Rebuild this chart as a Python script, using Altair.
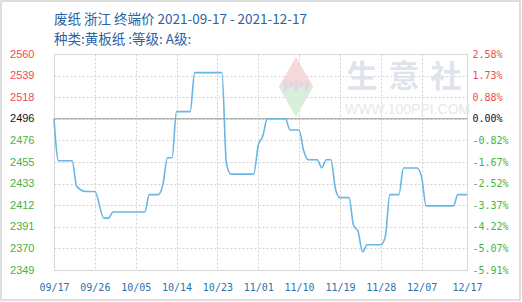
import json
import altair as alt
import pandas as pd

# Daily closing price series (only the dates where the price moves are listed)
dates = [
    "2021-09-17", "2021-09-18", "2021-09-21", "2021-09-22", "2021-09-24", "2021-09-26",
    "2021-09-28", "2021-09-29", "2021-09-30", "2021-10-07", "2021-10-08", "2021-10-10",
    "2021-10-11", "2021-10-12", "2021-10-13", "2021-10-14", "2021-10-17", "2021-10-18",
    "2021-10-24", "2021-10-25", "2021-10-26", "2021-10-31", "2021-11-01", "2021-11-02",
    "2021-11-03", "2021-11-07", "2021-11-08", "2021-11-10", "2021-11-11", "2021-11-12",
    "2021-11-14", "2021-11-15", "2021-11-16", "2021-11-17", "2021-11-18", "2021-11-19",
    "2021-11-21", "2021-11-22", "2021-11-23", "2021-11-24", "2021-11-25", "2021-11-28",
    "2021-11-29", "2021-11-30", "2021-12-02", "2021-12-03", "2021-12-06", "2021-12-07",
    "2021-12-08", "2021-12-14", "2021-12-15", "2021-12-17",
]
prices = [
    2496, 2455, 2455, 2430, 2425, 2425,
    2399, 2399, 2405, 2405, 2422, 2422,
    2432, 2458, 2458, 2503, 2503, 2541,
    2541, 2452, 2442, 2442, 2470, 2479,
    2496, 2496, 2485, 2485, 2465, 2456,
    2456, 2448, 2456, 2456, 2428, 2419,
    2419, 2392, 2386, 2366, 2373, 2373,
    2381, 2422, 2422, 2448, 2448, 2439,
    2411, 2411, 2422, 2422,
]
base_price = 2496

# Axis tick labels
x_tick_dates = [
    (2021, 9, 17), (2021, 9, 26), (2021, 10, 5), (2021, 10, 14), (2021, 10, 23),
    (2021, 11, 1), (2021, 11, 10), (2021, 11, 19), (2021, 11, 28), (2021, 12, 7),
    (2021, 12, 17),
]
y_left_labels = ["2349", "2370", "2391", "2412", "2433", "2455",
                 "2476", "2496", "2518", "2539", "2560"]
y_right_labels = ["-5.91%", "-5.07%", "-4.22%", "-3.37%", "-2.52%", "-1.67%",
                  "-0.82%", "0.00%", "0.88%", "1.73%", "2.58%"]

title_line_1 = "废纸 浙江 终端价 2021-09-17 - 2021-12-17"
title_line_2 = "种类:黄板纸 :等级: A级:"

# Evenly spaced price grid with the base price on the 8th line
y_lo, y_step = 2348.4, 21.08
y_ticks = [round(y_lo + k * y_step, 2) for k in range(11)]
y_dom = [y_ticks[0], y_ticks[-1]]

df = pd.DataFrame({"date": dates, "price": prices})

RED, GREEN, BLACK = "#ee4d4d", "#45b345", "#111111"
label_color = {
    "condition": [
        {"test": f"datum.value > {base_price + 1}", "value": RED},
        {"test": f"datum.value < {base_price - 1}", "value": GREEN},
    ],
    "value": BLACK,
}


def idx_expr(labels):
    return f"{json.dumps(labels)}[round((datum.value - {y_lo}) / {y_step})]"


x_scale = alt.Scale(
    type="utc",
    domain=[alt.DateTime(year=2021, month=9, date=17, utc=True),
            alt.DateTime(year=2021, month=12, date=17, utc=True)],
)
x_enc = alt.X(
    "date:T",
    scale=x_scale,
    axis=alt.Axis(
        values=[alt.DateTime(year=y, month=m, date=d, utc=True) for y, m, d in x_tick_dates],
        format="%m/%d", title=None, domain=False, ticks=False,
        labelPadding=12, labelFont="DejaVu Sans Mono", labelFontSize=10,
        labelColor="#2c72ad", grid=True, gridColor="#cfcfcf", gridDash=[2, 2],
        labelOverlap=False, labelFlush=False, labelBound=False,
    ),
)
y_scale = alt.Scale(domain=y_dom, zero=False, nice=False)

line = alt.Chart(df).mark_line(
    color="#6ab6e2", strokeWidth=1.6, interpolate="monotone"
).encode(
    x=x_enc,
    y=alt.Y(
        "price:Q",
        scale=y_scale,
        axis=alt.Axis(
            values=y_ticks, labelExpr=idx_expr(y_left_labels), title=None,
            domain=False, ticks=False, labelPadding=20, labelFont="Liberation Sans",
            labelFontSize=11, labelColor=label_color, grid=True,
            gridColor="#cfcfcf", gridDash=[2, 2],
        ),
    ),
)

base_rule = alt.Chart(pd.DataFrame({"price": [base_price]})).mark_rule(
    color="#9a9a9a", strokeWidth=1
).encode(y=alt.Y("price:Q", scale=y_scale, axis=None))

# Right-hand axis: change relative to the base price
right_axis = alt.Chart(df).mark_line(opacity=0).encode(
    x=x_enc,
    y=alt.Y(
        "price:Q",
        scale=y_scale,
        axis=alt.Axis(
            orient="right", values=y_ticks, labelExpr=idx_expr(y_right_labels),
            title=None, domain=False, ticks=False, grid=False, labelPadding=5,
            labelFont="DejaVu Sans Mono", labelFontSize=10, labelColor=label_color,
        ),
    ),
)

# Two-line heading
head_style = dict(align="left", baseline="middle", fontSize=13.5,
                  font="Noto Sans CJK SC, Noto Sans, sans-serif", color="#2a63a4")
head_1 = alt.Chart(pd.DataFrame({"t": [title_line_1]})).mark_text(**head_style).encode(
    text="t:N", x=alt.value(0), y=alt.value(-34))
head_2 = alt.Chart(pd.DataFrame({"t": [title_line_2]})).mark_text(**head_style).encode(
    text="t:N", x=alt.value(0), y=alt.value(-14))

# Faint publisher watermark
wm_top = alt.Chart(pd.DataFrame({"k": [0]})).mark_point(
    shape="triangle-up", filled=True, color="#f6d9da", size=1200, opacity=1
).encode(x=alt.value(242), y=alt.value(18))
wm_bot = alt.Chart(pd.DataFrame({"k": [0]})).mark_point(
    shape="triangle-down", filled=True, color="#d9eedb", size=1200, opacity=1
).encode(x=alt.value(242), y=alt.value(48))
wm_ppi = alt.Chart(pd.DataFrame({"t": ["PPI"]})).mark_text(
    fontSize=17, fontWeight="bold", font="Liberation Serif", color="#d5dbe6"
).encode(text="t:N", x=alt.value(242), y=alt.value(33))
wm_chars = alt.Chart(pd.DataFrame({"t": ["生", "意", "社"], "pos": [0, 1, 2]})).mark_text(
    fontSize=31, fontWeight="bold", color="#dfe4ec", font="Noto Sans CJK SC"
).encode(
    text="t:N",
    x=alt.X("pos:Q", scale=alt.Scale(domain=[0, 2], range=[308, 392]), axis=None),
    y=alt.value(24),
)
wm_url = alt.Chart(pd.DataFrame({"t": ["WWW.100PPI.COM"]})).mark_text(
    fontSize=14, align="left", color="#e4e8ee", font="Liberation Sans"
).encode(text="t:N", x=alt.value(291), y=alt.value(56))

# Thin outer frame around the whole figure
frame = alt.Chart(pd.DataFrame({"k": [0]})).mark_rect(
    fill=None, stroke="#d4d4d4", strokeWidth=1.5
).encode(x=alt.value(-53), x2=alt.value(466), y=alt.value(-53), y2=alt.value(246))

chart = alt.layer(
    frame, wm_top, wm_bot, wm_ppi, wm_url, head_1, head_2,
    base_rule, line, right_axis
).resolve_scale(y="independent")

chart = alt.layer(wm_chars, chart).resolve_scale(x="independent").properties(
    width=413, height=216,
    autosize=alt.AutoSizeParams(type="none"),
    padding={"left": 54, "top": 54, "right": 55, "bottom": 32},
).configure_view(stroke="#aaaaaa", strokeWidth=1).configure(background="white")

chart.save("out.html", embed_options={"renderer": "svg", "actions": False})
